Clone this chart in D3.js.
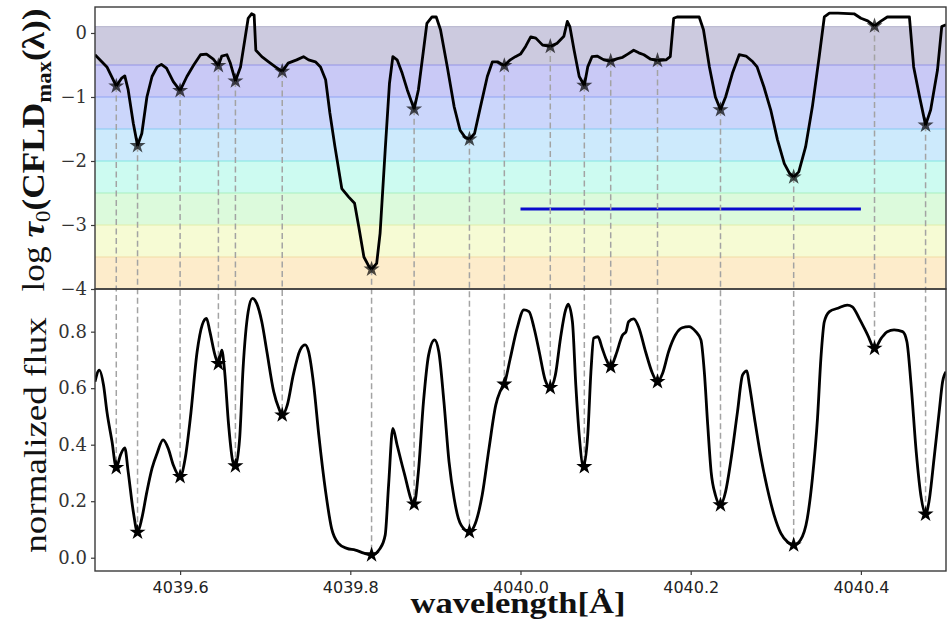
<!DOCTYPE html>
<html>
<head>
<meta charset="utf-8">
<script src="https://cdn.jsdelivr.net/npm/d3@7"></script>
<style>
html,body{margin:0;padding:0;background:#fff;}
svg{display:block;}
</style>
</head>
<body>
<svg id="chart" width="950" height="644"></svg>
<script>
// ---------------- DATA ----------------
const tauWavelength = [4039.500,4039.514,4039.525,4039.531,4039.535,4039.539,4039.545,4039.550,4039.555,4039.561,4039.567,4039.573,4039.578,4039.584,4039.592,4039.600,4039.608,4039.616,4039.624,4039.631,4039.639,4039.645,4039.649,4039.655,4039.659,4039.665,4039.671,4039.676,4039.680,4039.684,4039.687,4039.689,4039.696,4039.704,4039.712,4039.720,4039.727,4039.737,4039.745,4039.751,4039.759,4039.765,4039.771,4039.776,4039.782,4039.790,4039.798,4039.805,4039.810,4039.816,4039.822,4039.825,4039.831,4039.835,4039.841,4039.846,4039.850,4039.855,4039.861,4039.867,4039.875,4039.880,4039.886,4039.890,4039.896,4039.901,4039.906,4039.914,4039.922,4039.929,4039.935,4039.940,4039.946,4039.953,4039.961,4039.967,4039.973,4039.981,4039.988,4039.994,4040.000,4040.006,4040.012,4040.018,4040.026,4040.035,4040.043,4040.051,4040.055,4040.058,4040.063,4040.069,4040.075,4040.079,4040.084,4040.090,4040.098,4040.105,4040.114,4040.120,4040.126,4040.133,4040.139,4040.145,4040.153,4040.161,4040.171,4040.176,4040.180,4040.184,4040.210,4040.215,4040.222,4040.229,4040.235,4040.241,4040.249,4040.257,4040.265,4040.273,4040.278,4040.286,4040.294,4040.302,4040.310,4040.316,4040.321,4040.327,4040.335,4040.343,4040.351,4040.357,4040.363,4040.373,4040.392,4040.400,4040.408,4040.416,4040.424,4040.431,4040.457,4040.462,4040.469,4040.476,4040.482,4040.490,4040.495,4040.500];
const logTau = [-0.34,-0.53,-0.83,-0.71,-0.67,-0.89,-1.41,-1.76,-1.57,-1.00,-0.68,-0.53,-0.49,-0.55,-0.76,-0.90,-0.68,-0.50,-0.34,-0.33,-0.41,-0.51,-0.36,-0.34,-0.47,-0.75,-0.53,-0.11,0.23,0.30,0.28,-0.27,-0.37,-0.45,-0.53,-0.60,-0.47,-0.42,-0.37,-0.42,-0.45,-0.53,-0.73,-1.25,-1.78,-2.43,-2.56,-2.66,-3.03,-3.50,-3.65,-3.69,-3.60,-3.13,-1.83,-0.79,-0.37,-0.42,-0.63,-0.89,-1.19,-0.89,-0.27,0.15,0.25,0.25,0.05,-0.53,-1.15,-1.52,-1.63,-1.66,-1.57,-1.15,-0.68,-0.45,-0.45,-0.51,-0.42,-0.37,-0.33,-0.21,-0.06,-0.08,-0.19,-0.21,-0.16,-0.05,0.18,0.10,-0.27,-0.68,-0.82,-0.53,-0.37,-0.36,-0.42,-0.44,-0.40,-0.38,-0.33,-0.27,-0.31,-0.34,-0.41,-0.43,-0.42,-0.37,0.23,0.25,0.25,0.05,-0.53,-1.00,-1.20,-1.00,-0.63,-0.34,-0.36,-0.45,-0.53,-0.84,-1.20,-1.67,-2.04,-2.19,-2.25,-2.17,-1.78,-1.15,-0.37,0.25,0.31,0.31,0.30,0.23,0.19,0.11,0.19,0.25,0.25,-0.53,-1.00,-1.44,-1.20,-0.58,0.10,0.13];

const fluxWavelength = [4039.500,4039.505,4039.510,4039.514,4039.520,4039.525,4039.530,4039.535,4039.539,4039.545,4039.550,4039.555,4039.561,4039.567,4039.573,4039.580,4039.586,4039.592,4039.600,4039.606,4039.612,4039.620,4039.626,4039.631,4039.635,4039.641,4039.645,4039.649,4039.652,4039.657,4039.662,4039.665,4039.670,4039.674,4039.680,4039.685,4039.690,4039.696,4039.702,4039.710,4039.716,4039.720,4039.726,4039.733,4039.741,4039.747,4039.751,4039.757,4039.763,4039.771,4039.778,4039.786,4039.796,4039.806,4039.816,4039.825,4039.835,4039.841,4039.845,4039.850,4039.855,4039.863,4039.875,4039.880,4039.886,4039.892,4039.899,4039.904,4039.910,4039.916,4039.922,4039.927,4039.935,4039.940,4039.947,4039.955,4039.963,4039.971,4039.976,4039.981,4039.988,4039.996,4040.004,4040.010,4040.016,4040.022,4040.029,4040.035,4040.041,4040.047,4040.053,4040.056,4040.061,4040.065,4040.069,4040.074,4040.079,4040.083,4040.086,4040.091,4040.096,4040.101,4040.106,4040.112,4040.120,4040.124,4040.127,4040.133,4040.139,4040.147,4040.155,4040.161,4040.167,4040.174,4040.182,4040.190,4040.198,4040.206,4040.212,4040.216,4040.220,4040.224,4040.229,4040.235,4040.241,4040.247,4040.255,4040.261,4040.266,4040.269,4040.275,4040.282,4040.290,4040.298,4040.306,4040.314,4040.321,4040.329,4040.337,4040.343,4040.349,4040.353,4040.357,4040.363,4040.373,4040.384,4040.390,4040.398,4040.408,4040.416,4040.424,4040.431,4040.439,4040.449,4040.454,4040.459,4040.465,4040.471,4040.476,4040.480,4040.486,4040.492,4040.496,4040.500];
const normFlux = [0.623,0.664,0.611,0.517,0.411,0.319,0.364,0.389,0.304,0.163,0.090,0.139,0.234,0.316,0.370,0.417,0.387,0.328,0.287,0.352,0.493,0.729,0.824,0.847,0.800,0.717,0.687,0.735,0.670,0.470,0.340,0.325,0.423,0.670,0.871,0.918,0.900,0.835,0.729,0.588,0.529,0.505,0.541,0.647,0.735,0.753,0.729,0.611,0.434,0.234,0.104,0.051,0.033,0.027,0.016,0.010,0.033,0.080,0.257,0.458,0.399,0.304,0.190,0.304,0.552,0.717,0.771,0.729,0.552,0.340,0.210,0.139,0.098,0.092,0.122,0.222,0.387,0.541,0.588,0.614,0.706,0.812,0.877,0.871,0.812,0.729,0.629,0.602,0.647,0.777,0.877,0.897,0.835,0.611,0.434,0.322,0.434,0.670,0.777,0.782,0.741,0.700,0.676,0.717,0.788,0.800,0.835,0.845,0.815,0.729,0.653,0.623,0.653,0.729,0.788,0.814,0.818,0.800,0.771,0.658,0.470,0.304,0.222,0.187,0.234,0.340,0.517,0.647,0.661,0.611,0.493,0.364,0.246,0.151,0.086,0.055,0.045,0.063,0.139,0.281,0.493,0.706,0.835,0.871,0.883,0.894,0.888,0.847,0.788,0.741,0.777,0.800,0.806,0.800,0.765,0.611,0.375,0.210,0.154,0.198,0.352,0.517,0.623,0.658];

const lineWavelength = [4039.525,4039.550,4039.600,4039.645,4039.665,4039.720,4039.825,4039.875,4039.940,4039.981,4040.035,4040.075,4040.106,4040.161,4040.235,4040.321,4040.416,4040.476];
const lineLogTau = [-0.83,-1.76,-0.90,-0.51,-0.75,-0.60,-3.69,-1.19,-1.66,-0.51,-0.21,-0.82,-0.44,-0.43,-1.20,-2.25,0.11,-1.44];
const lineFlux = [0.319,0.090,0.287,0.687,0.325,0.505,0.010,0.190,0.092,0.614,0.602,0.322,0.676,0.623,0.187,0.045,0.741,0.154];

const bandEdges = [0.1,-0.5,-1.0,-1.5,-2.0,-2.5,-3.0,-3.5,-4.0];
const bandFills = ["#cccadf","#c9c9f6","#cbd6fb","#cdeafc","#cdfbf1","#dcfadc","#f6fbd4","#fdeccb"];
const bandLines = ["#bdbcd2","#9494e6","#8fa3f3","#86c9f2","#84e6e2","#a8efc0","#e0eeaa","#f2dca6"];

const refLineWavelength = [4040.0, 4040.4];
const refLineLogTau = [-2.75, -2.75];

const xTicks = [4039.6, 4039.8, 4040.0, 4040.2, 4040.4];
const tauTicks = [0, -1, -2, -3, -4];
const fluxTicks = [0.0, 0.2, 0.4, 0.6, 0.8];

// ---------------- LAYOUT ----------------
const L = 95, R = 946, T1 = 7, B1 = 289, T2 = 289, B2 = 571;
const svg = d3.select("#chart");

const x = d3.scaleLinear().domain([4039.5, 4040.5]).range([L, R]);
const yTop = d3.scaleLinear().domain([-4, 0.406]).range([B1, T1]);
const yBot = d3.scaleLinear().domain([-0.047, 0.951]).range([B2, T2]);

const defs = svg.append("defs");
defs.append("clipPath").attr("id","clipTop").append("rect")
  .attr("x",L).attr("y",T1).attr("width",R-L).attr("height",B1-T1);
defs.append("clipPath").attr("id","clipBot").append("rect")
  .attr("x",L).attr("y",T2).attr("width",R-L).attr("height",B2-T2);

// bands
const bands = d3.range(bandFills.length).map(i => ({hi: bandEdges[i], lo: bandEdges[i+1], fill: bandFills[i], line: bandLines[i]}));
const gTop = svg.append("g").attr("clip-path","url(#clipTop)");
gTop.selectAll("rect.band").data(bands).join("rect").attr("class","band")
  .attr("x",L).attr("width",R-L)
  .attr("y",d=>yTop(d.hi)).attr("height",d=>yTop(d.lo)-yTop(d.hi))
  .attr("fill",d=>d.fill);
gTop.selectAll("line.bandline").data(bands).join("line").attr("class","bandline")
  .attr("x1",L).attr("x2",R)
  .attr("y1",d=>yTop(d.hi)).attr("y2",d=>yTop(d.hi))
  .attr("stroke",d=>d.line).attr("stroke-width",1.2);

// dashed connectors
const stars = lineWavelength.map((w,i)=>({w, t: lineLogTau[i], f: lineFlux[i]}));
svg.append("g").selectAll("line").data(stars).join("line")
  .attr("x1",d=>x(d.w)).attr("x2",d=>x(d.w))
  .attr("y1",d=>yTop(d.t)).attr("y2",d=>yBot(d.f))
  .attr("stroke","#a3a3a3").attr("stroke-width",1.5)
  .attr("stroke-dasharray","6,3.5");

// reference blue line
gTop.append("path")
  .datum(refLineWavelength.map((w,i)=>[w, refLineLogTau[i]]))
  .attr("d", d3.line().x(d=>x(d[0])).y(d=>yTop(d[1])))
  .attr("stroke","#0a0acc").attr("stroke-width",3).attr("fill","none");

// top curve
gTop.append("path")
  .datum(tauWavelength.map((w,i)=>[w, logTau[i]]))
  .attr("d", d3.line().x(d=>x(d[0])).y(d=>yTop(d[1])))
  .attr("fill","none").attr("stroke","#000").attr("stroke-width",2.8)
  .attr("stroke-linejoin","round");

// bottom curve
const gBot = svg.append("g").attr("clip-path","url(#clipBot)");
gBot.append("path")
  .datum(fluxWavelength.map((w,i)=>[w, normFlux[i]]))
  .attr("d", d3.line().curve(d3.curveMonotoneX).x(d=>x(d[0])).y(d=>yBot(d[1])))
  .attr("fill","none").attr("stroke","#000").attr("stroke-width",2.8)
  .attr("stroke-linejoin","round");

// stars
const starPath = d3.symbol().type(d3.symbolStar).size(80)();
svg.append("g").selectAll("path").data(stars).join("path")
  .attr("d",starPath)
  .attr("transform",d=>`translate(${x(d.w)},${yTop(d.t)})`)
  .attr("fill","#000").attr("fill-opacity",0.7);
svg.append("g").selectAll("path").data(stars).join("path")
  .attr("d",starPath)
  .attr("transform",d=>`translate(${x(d.w)},${yBot(d.f)})`)
  .attr("fill","#000");

// frames
svg.append("rect").attr("x",L).attr("y",T1).attr("width",R-L).attr("height",B1-T1)
  .attr("fill","none").attr("stroke","#3a3a3a").attr("stroke-width",1.4);
svg.append("rect").attr("x",L).attr("y",T2).attr("width",R-L).attr("height",B2-T2)
  .attr("fill","none").attr("stroke","#3a3a3a").attr("stroke-width",1.4);

// axes
const fmtTau = d3.format("d");
const axTop = svg.append("g").attr("transform",`translate(${L},0)`)
  .call(d3.axisLeft(yTop).tickValues(tauTicks).tickFormat(fmtTau).tickSize(4).tickPadding(4));
const axBot = svg.append("g").attr("transform",`translate(${L},0)`)
  .call(d3.axisLeft(yBot).tickValues(fluxTicks).tickFormat(d3.format(".1f")).tickSize(4).tickPadding(4));
[axTop, axBot].forEach(a => {
  a.select(".domain").remove();
  a.selectAll(".tick line").attr("stroke","#3a3a3a").attr("stroke-width",1.2);
  a.selectAll(".tick text").attr("font-family","'DejaVu Serif', serif").attr("font-size",18).attr("fill","#333");
});
const axX = svg.append("g").attr("transform",`translate(0,${B2})`)
  .call(d3.axisBottom(x).tickValues(xTicks).tickFormat(d3.format(".1f")).tickSize(4).tickPadding(7));
axX.select(".domain").remove();
axX.selectAll(".tick line").attr("stroke","#3a3a3a").attr("stroke-width",1.2);
axX.selectAll(".tick text").attr("font-family","'DejaVu Sans', sans-serif").attr("font-size",16).attr("fill","#222");

// labels
function fitText(sel, target, cx, cy, rot){
  const w = sel.node().getBBox().width;
  const s = target / w;
  sel.attr("transform", `translate(${cx},${cy}) rotate(${rot}) scale(${s},1)`);
}
const serif = "'Liberation Serif', 'DejaVu Serif', serif";
const lab1 = svg.append("text").attr("text-anchor","middle")
  .attr("font-family",serif).attr("font-size",31).attr("fill","#111");
lab1.append("tspan").text("log ");
lab1.append("tspan").attr("font-weight","bold").attr("font-style","italic").text("τ");
lab1.append("tspan").attr("font-size",20).attr("dy",6).text("0");
lab1.append("tspan").attr("dy",-6).attr("font-weight","bold").text("(CFLD");
lab1.append("tspan").attr("font-size",20).attr("dy",7).attr("font-weight","bold").text("max");
lab1.append("tspan").attr("dy",-7).attr("font-weight","bold").text("(λ))");
fitText(lab1, 283, 44, 150, -90);

const lab2 = svg.append("text").attr("text-anchor","middle")
  .attr("font-family",serif).attr("font-size",31).attr("fill","#111")
  .text("normalized flux");
fitText(lab2, 236, 46, 435, -90);

const lab3 = svg.append("text").attr("text-anchor","middle")
  .attr("font-family",serif).attr("font-size",29).attr("font-weight","bold").attr("fill","#111")
  .text("wavelength[Å]");
fitText(lab3, 215, 518, 613, 0);
</script>
</body>
</html>
